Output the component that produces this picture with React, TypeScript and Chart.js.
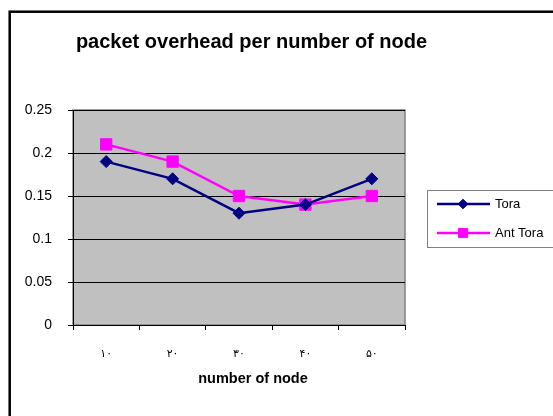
import { useEffect, useRef } from "react";
import { Chart, registerables } from "chart.js";
import { drawPoint } from "chart.js/helpers";

Chart.register(...registerables);

const categories = ["۱۰", "۲۰", "۳۰", "۴۰", "۵۰"];
const toraValues = [0.19, 0.17, 0.13, 0.14, 0.17];
const antToraValues = [0.21, 0.19, 0.15, 0.14, 0.15];
const yTicks = [0, 0.05, 0.1, 0.15, 0.2, 0.25];
const seriesNames = ["Tora", "Ant Tora"];
const chartTitle = "packet overhead per number of node";
const xAxisTitle = "number of node";

const FONT = "'Liberation Sans', Arial, sans-serif";

// Page background, outer frame and the grey plot area behind the grid.
const backdropPlugin = {
  id: "backdrop",
  beforeDraw(chart: any) {
    const { ctx, chartArea: a, width, height } = chart;
    ctx.save();
    ctx.fillStyle = "#ffffff";
    ctx.fillRect(0, 0, width, height);
    ctx.strokeStyle = "#000000";
    ctx.lineWidth = 2.5;
    ctx.strokeRect(9.7, 11.7, width + 40, height + 40);
    ctx.fillStyle = "#c0c0c0";
    ctx.fillRect(a.left, a.top, a.right - a.left, a.bottom - a.top);
    ctx.strokeStyle = "#808080";
    ctx.lineWidth = 1.5;
    ctx.strokeRect(a.left, a.top, a.right - a.left, a.bottom - a.top);
    ctx.restore();
  },
};

// Chart title, axis title and the boxed legend on the right.
const annotationsPlugin = {
  id: "annotations",
  afterDraw(chart: any) {
    const { ctx } = chart;
    ctx.save();
    ctx.fillStyle = "#000000";
    ctx.textAlign = "center";
    ctx.textBaseline = "middle";
    ctx.font = `bold 20px ${FONT}`;
    ctx.fillText(chartTitle, 251.5, 42);
    ctx.font = `bold 14.5px ${FONT}`;
    ctx.fillText(xAxisTitle, 253, 379);

    // legend
    ctx.fillStyle = "#ffffff";
    ctx.fillRect(427.5, 190.5, 200, 57);
    ctx.strokeStyle = "#808080";
    ctx.lineWidth = 1;
    ctx.strokeRect(427.5, 190.5, 200, 57);
    const legendMarker = [4.8, 6.5];
    chart.data.datasets.forEach((ds: any, i: number) => {
      const y = 204 + i * 29;
      ctx.strokeStyle = ds.borderColor;
      ctx.lineWidth = ds.borderWidth;
      ctx.beginPath();
      ctx.moveTo(437, y);
      ctx.lineTo(490, y);
      ctx.stroke();
      ctx.fillStyle = ds.pointBackgroundColor;
      ctx.strokeStyle = ds.pointBorderColor;
      ctx.lineWidth = 1;
      drawPoint(
        ctx,
        { pointStyle: ds.pointStyle, rotation: 0, radius: legendMarker[i], borderWidth: 1 },
        463,
        y
      );
      ctx.fillStyle = "#000000";
      ctx.textAlign = "left";
      ctx.font = `13px ${FONT}`;
      ctx.fillText(ds.label, 495, y + 0.5);
    });
    ctx.restore();
  },
};

export default function App() {
  const canvasRef = useRef<HTMLCanvasElement | null>(null);

  useEffect(() => {
    if (!canvasRef.current) return;
    const chart = new Chart(canvasRef.current, {
      type: "line",
      data: {
        labels: categories,
        datasets: [
          {
            label: seriesNames[0],
            data: toraValues,
            borderColor: "#000080",
            backgroundColor: "#000080",
            pointBackgroundColor: "#000080",
            pointBorderColor: "#000080",
            borderWidth: 2.5,
            pointStyle: "rectRot",
            pointRadius: 6,
            pointBorderWidth: 1,
            tension: 0,
          },
          {
            label: seriesNames[1],
            data: antToraValues,
            borderColor: "#ff00ff",
            backgroundColor: "#ff00ff",
            pointBackgroundColor: "#ff00ff",
            pointBorderColor: "#ff00ff",
            borderWidth: 2.5,
            pointStyle: "rect",
            pointRadius: 8,
            pointBorderWidth: 1,
            tension: 0,
          },
        ],
      },
      options: {
        responsive: false,
        animation: false,
        devicePixelRatio: 1,
        layout: { padding: { top: 110, right: 148, bottom: 0, left: 0 } },
        plugins: {
          legend: { display: false },
          title: { display: false },
          tooltip: { enabled: false },
        },
        scales: {
          x: {
            type: "category",
            offset: true,
            grid: {
              offset: true,
              drawOnChartArea: false,
              drawTicks: true,
              tickLength: 5,
              color: "#000000",
              tickColor: "#000000",
            },
            border: { display: true, color: "#000000", width: 1 },
            ticks: {
              color: "#000000",
              padding: 18,
              maxRotation: 0,
              font: { family: "'DejaVu Sans', sans-serif", size: 11 },
            },
            afterFit(scale: any) {
              scale.height = 91;
            },
          },
          y: {
            min: 0,
            max: 0.25,
            grid: {
              color: "#000000",
              tickColor: "#000000",
              tickLength: 5,
              lineWidth: 1,
            },
            border: { display: true, color: "#000000", width: 1 },
            afterBuildTicks(scale: any) {
              scale.ticks = yTicks.map((v) => ({ value: v }));
            },
            ticks: {
              color: "#000000",
              padding: 16,
              font: { family: FONT, size: 14 },
              callback: (v: any) => String(Math.round(Number(v) * 100) / 100),
            },
            afterFit(scale: any) {
              scale.width = 73;
            },
          },
        },
      },
      plugins: [backdropPlugin, annotationsPlugin],
    });
    return () => chart.destroy();
  }, []);

  return (
    <div style={{ position: "absolute", left: 0, top: 0, width: 553, height: 416 }}>
      <canvas ref={canvasRef} width={553} height={416} style={{ display: "block" }} />
    </div>
  );
}
